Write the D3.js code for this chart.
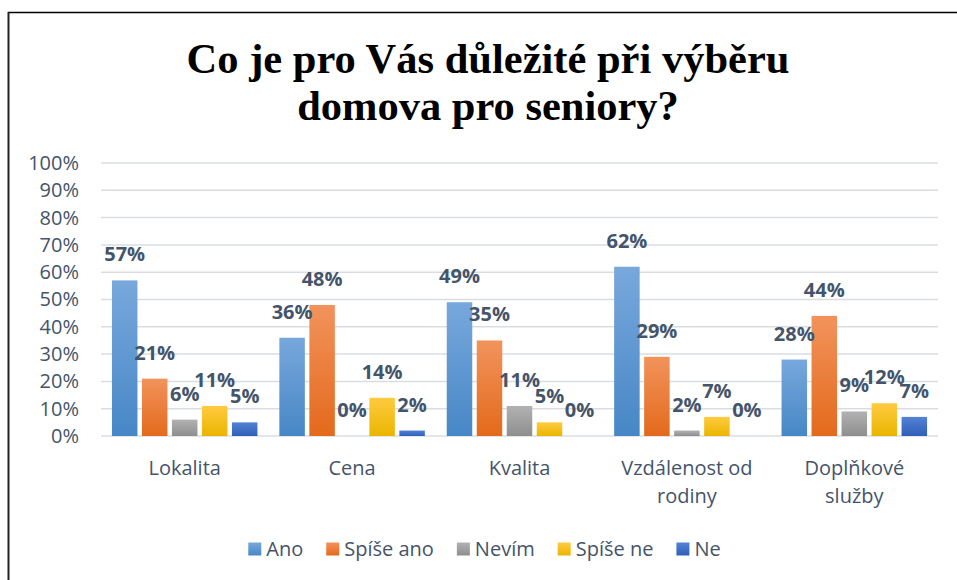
<!DOCTYPE html>
<html>
<head>
<meta charset="utf-8">
<script src="https://cdn.jsdelivr.net/npm/d3@7"></script>
<style>
  html, body { margin: 0; padding: 0; background: #fff; }
  svg { display: block; }
</style>
</head>
<body>
<svg id="chart" width="957" height="580"></svg>
<script>
const titleLines = ["Co je pro Vás důležité při výběru", "domova pro seniory?"];
const categories = ["Lokalita", "Cena", "Kvalita", "Vzdálenost od rodiny", "Doplňkové služby"];
const series = ["Ano", "Spíše ano", "Nevím", "Spíše ne", "Ne"];
const ano      = [57, 36, 49, 62, 28];
const spiseAno = [21, 48, 35, 29, 44];
const nevim    = [6, 0, 11, 2, 9];
const spiseNe  = [11, 14, 5, 7, 12];
const ne       = [5, 2, 0, 0, 7];
const yTicks = [0, 10, 20, 30, 40, 50, 60, 70, 80, 90, 100];
const colorsTop    = ["#78A8DC", "#F2935C", "#B2B2B2", "#FFCB40", "#5283D6"];
const colorsBottom = ["#4787C6", "#E36A1C", "#8E8E8E", "#EAB500", "#2F5FB8"];

const values = [ano, spiseAno, nevim, spiseNe, ne];

const svg = d3.select("#chart");
const W = 957, H = 580;
const plot = { left: 101, right: 938, top: 163, bottom: 436 };

// gradients
const defs = svg.append("defs");
series.forEach((s, i) => {
  const g = defs.append("linearGradient").attr("id", "g" + i)
    .attr("x1", 0).attr("y1", 0).attr("x2", 0).attr("y2", 1);
  g.append("stop").attr("offset", "0%").attr("stop-color", colorsTop[i]);
  g.append("stop").attr("offset", "100%").attr("stop-color", colorsBottom[i]);
});

// border
svg.append("line").attr("x1", 8).attr("x2", W).attr("y1", 12.5).attr("y2", 12.5)
  .attr("stroke", "#000").attr("stroke-width", 1.5);
svg.append("line").attr("x1", 8.5).attr("x2", 8.5).attr("y1", 12).attr("y2", H)
  .attr("stroke", "#222").attr("stroke-width", 2);

// title
const title = svg.append("text")
  .attr("text-anchor", "middle")
  .attr("font-family", "'Liberation Serif', 'Times New Roman', serif")
  .attr("font-weight", "bold")
  .attr("font-size", 42.5)
  .attr("fill", "#000");
titleLines.forEach((t, i) => {
  title.append("tspan").attr("x", 488).attr("y", 73 + i * 47).text(t);
});

const y = d3.scaleLinear().domain([0, 100]).range([plot.bottom, plot.top]);
const x0 = d3.scaleBand().domain(categories).range([plot.left, plot.right]).padding(0);
const x1 = d3.scaleBand().domain(series).range([0, x0.bandwidth()])
  .paddingInner(0.15).paddingOuter(0.365);

const font = "'Open Sans', 'Noto Sans', sans-serif";
const txtColor = "#44546A";
const fs = 20;

// gridlines
svg.append("g").selectAll("line").data(yTicks).join("line")
  .attr("x1", plot.left).attr("x2", plot.right)
  .attr("y1", d => y(d)).attr("y2", d => y(d))
  .attr("stroke", "#D9DDE2").attr("stroke-width", 1.5);

// y axis labels
const yAxis = d3.axisLeft(y).tickValues(yTicks).tickFormat(d => d + "%").tickSize(0).tickPadding(0);
const ya = svg.append("g").attr("transform", "translate(79,0)").call(yAxis);
ya.select(".domain").remove();
ya.selectAll("text").attr("font-family", font).attr("font-size", fs).attr("fill", txtColor);

// x axis labels with wrapping
const xAxis = d3.axisBottom(x0).tickSize(0).tickPadding(0);
const xa = svg.append("g").attr("transform", `translate(0,${plot.bottom})`).call(xAxis);
xa.select(".domain").remove();
xa.selectAll("text").attr("font-family", font).attr("font-size", fs).attr("fill", txtColor)
  .attr("dy", null).attr("y", 0)
  .each(function(d) {
    const t = d3.select(this);
    const words = d.split(" ");
    t.text(null);
    let lines = [], line = [];
    const maxW = 145;
    const probe = t.append("tspan");
    words.forEach(w => {
      line.push(w);
      probe.text(line.join(" "));
      if (probe.node().getComputedTextLength() > maxW && line.length > 1) {
        line.pop(); lines.push(line.join(" ")); line = [w];
      }
    });
    lines.push(line.join(" "));
    probe.remove();
    lines.forEach((l, i) => {
      t.append("tspan").attr("x", 0).attr("y", 39 + i * 28).text(l);
    });
  });

// bars
const groups = svg.append("g").selectAll("g").data(categories).join("g")
  .attr("transform", d => `translate(${x0(d)},0)`);
groups.selectAll("rect").data((c, ci) => series.map((s, si) => ({ s, si, v: values[si][ci] })))
  .join("rect")
  .attr("x", d => x1(d.s))
  .attr("width", x1.bandwidth())
  .attr("y", d => y(d.v))
  .attr("height", d => y(0) - y(d.v))
  .attr("fill", d => `url(#g${d.si})`);

// data labels
groups.selectAll("text.lbl").data((c, ci) => series.map((s, si) => ({ s, si, v: values[si][ci] })))
  .join("text").attr("class", "lbl")
  .attr("x", d => x1(d.s) + x1.bandwidth() / 2)
  .attr("y", d => y(d.v) - 19)
  .attr("text-anchor", "middle")
  .attr("font-family", font).attr("font-weight", "bold").attr("font-size", 20)
  .attr("fill", txtColor)
  .text(d => d.v + "%");

// legend
const legend = svg.append("g");
let lx = 0;
series.forEach((s, i) => {
  const g = legend.append("g");
  g.append("rect").attr("x", 0).attr("y", -6.5).attr("width", 13).attr("height", 13)
    .attr("fill", `url(#g${i})`);
  const t = g.append("text").attr("x", 18).attr("y", 0).attr("dy", "0.35em")
    .attr("font-family", font).attr("font-size", fs).attr("fill", txtColor).text(s);
  const w = 18 + t.node().getComputedTextLength();
  g.attr("transform", `translate(${lx},0)`);
  lx += w + 23;
});
const totalW = lx - 23;
legend.attr("transform", `translate(${484.5 - totalW / 2},549)`);
</script>
</body>
</html>
